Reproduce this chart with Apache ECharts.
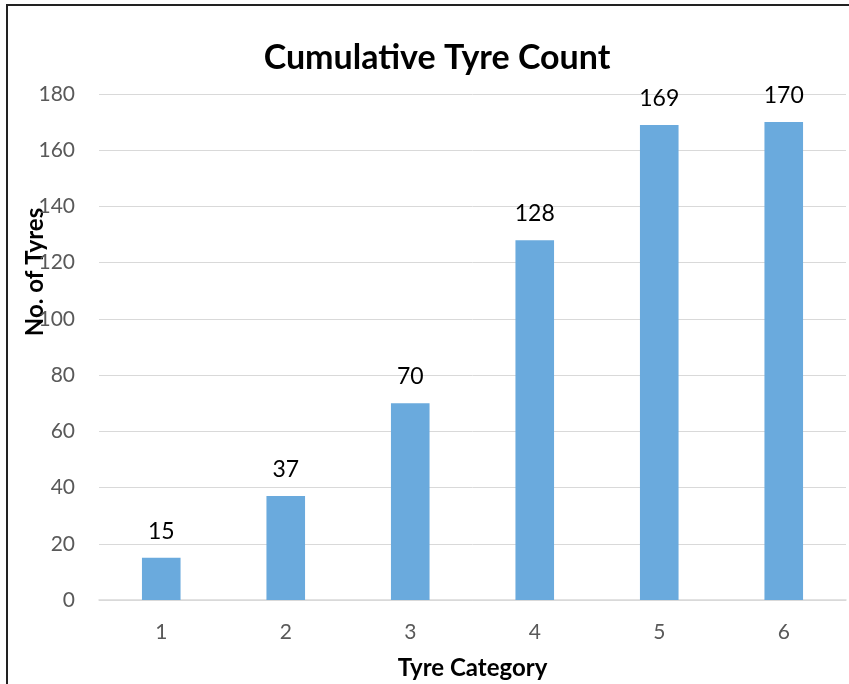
<!DOCTYPE html>
<html>
<head>
<meta charset="utf-8">
<script src="https://cdn.jsdelivr.net/npm/echarts@6/dist/echarts.min.js"></script>
<style>
  html, body { margin: 0; padding: 0; background: #fff; overflow: hidden; width: 849px; height: 684px; }
  #frame { position: absolute; left: 6px; top: 4px; width: 843px; height: 680px;
           border-left: 2px solid #222; border-top: 2px solid #222; box-sizing: border-box; }
  #chart { position: absolute; left: 0; top: 0; width: 849px; height: 684px; }
</style>
</head>
<body>
<div id="frame"></div>
<div id="chart"></div>
<script>
// Tyre categories and their running totals
const categories = ['1', '2', '3', '4', '5', '6'];
const cumulativeCounts = [15, 37, 70, 128, 169, 170];
const yTicks = { min: 0, max: 180, interval: 20 };

const chart = echarts.init(document.getElementById('chart'), null, { renderer: 'canvas' });
const fontFamily = 'Lato, "Open Sans", sans-serif';

chart.setOption({
  animation: false,
  title: {
    text: 'Cumulative Tyre Count',
    left: 432, top: 36, textAlign: 'center',
    textStyle: { fontFamily, fontWeight: 'bold', fontSize: 34, color: '#000' }
  },
  grid: { left: 99, right: 3, top: 94, bottom: 84, containLabel: false, outerBoundsMode: 'none' },
  xAxis: {
    type: 'category',
    data: categories,
    name: 'Tyre Category',
    nameLocation: 'middle',
    nameGap: 56,
    nameTextStyle: { fontFamily, fontWeight: 'bold', fontSize: 24, color: '#000' },
    axisLine: { lineStyle: { color: '#d9d9d9', width: 1.5 } },
    axisTick: { show: false },
    axisLabel: { fontFamily, fontSize: 21, color: '#595959', margin: 22 }
  },
  yAxis: {
    type: 'value',
    min: yTicks.min, max: yTicks.max, interval: yTicks.interval,
    axisLine: { show: false },
    axisTick: { show: false },
    axisLabel: { fontFamily, fontSize: 21, color: '#595959', margin: 24 },
    splitLine: { lineStyle: { color: '#d9d9d9', width: 1 } }
  },
  // Vertical axis title, set higher than the axis midpoint
  graphic: [{
    type: 'text',
    x: 35, y: 272,
    rotation: Math.PI / 2,
    style: {
      text: 'No. of Tyres',
      fontFamily, fontWeight: 'bold', fontSize: 24, fill: '#000',
      align: 'center', verticalAlign: 'middle'
    }
  }],
  series: [{
    type: 'bar',
    data: cumulativeCounts,
    barWidth: '31%',
    itemStyle: { color: '#6aaadd' },
    label: {
      show: true, position: 'top', distance: 15,
      fontFamily, fontSize: 23, color: '#000'
    }
  }]
});
</script>
</body>
</html>
